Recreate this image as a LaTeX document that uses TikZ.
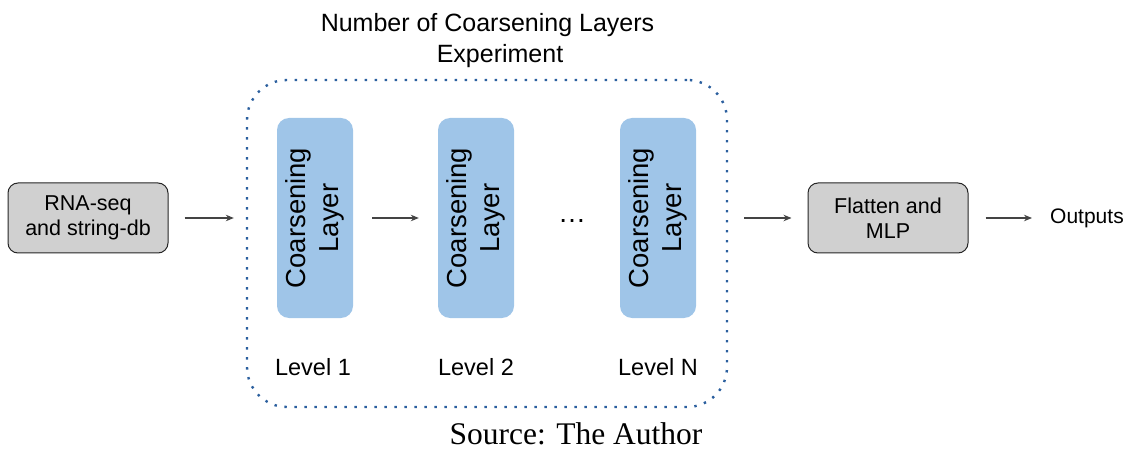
\documentclass[tikz,border=0pt]{standalone}
\usepackage{fontspec}
\setmainfont{Liberation Sans}
\newfontfamily\srcfont{Liberation Serif}
\usetikzlibrary{arrows.meta}
\definecolor{boxgrey}{HTML}{D0D0D0}
\definecolor{layerblue}{HTML}{9FC5E8}
\definecolor{dotblue}{HTML}{2B5F9E}
\definecolor{arrowgrey}{HTML}{444444}
\tikzset{
  greybox/.style={draw=black!85, line width=1pt, fill=boxgrey, rounded corners=10pt,
    minimum width=160pt, minimum height=70pt, align=center, inner sep=0pt,
    font=\fontsize{21.5}{25}\selectfont},
  layerbox/.style={fill=layerblue, rounded corners=12pt, minimum width=76pt,
    minimum height=200pt, inner sep=0pt},
  layertext/.style={rotate=90, align=center, inner sep=0pt, font=\fontsize{27.5}{33}\selectfont},
  leveltext/.style={font=\fontsize{23.5}{28}\selectfont, inner sep=0pt},
  titletext/.style={font=\fontsize{25}{31}\selectfont, inner sep=0pt, anchor=base},
  flow/.style={draw=arrowgrey, line width=1.1pt, -{Stealth[length=8pt,width=6.5pt]}},
  frame/.style={draw=dotblue, line width=2.4pt, dash pattern=on 2.4pt off 7.6pt,
    rounded corners=40pt, minimum width=480pt, minimum height=327pt, inner sep=0pt}
}
\begin{document}
\begin{tikzpicture}[x=1pt,y=-1pt]
\useasboundingbox (0,0) rectangle (1138,449);
\node[greybox] (rna) at (88,218) {RNA-seq\\and string-db};
\node[frame] (fr) at (487,243.5) {};
\node[titletext] (title1) at (487.5,31.5) {Number of Coarsening Layers};
\node[titletext] (title2) at (500,62.5) {Experiment};
\node[layerbox] (c1) at (315,218) {};
\node[layerbox] (c2) at (476,218) {};
\node[layerbox] (c3) at (658,218) {};
\node[layertext] (t1) at (c1) {Coarsening\\Layer};
\node[layertext] (t2) at (c2) {Coarsening\\Layer};
\node[layertext] (t3) at (c3) {Coarsening\\Layer};
\node[font=\fontsize{28}{30}\selectfont, inner sep=0pt] (dots) at (572,221) {…};
\node[leveltext] (l1) at (313,367) {Level 1};
\node[leveltext] (l2) at (476,367) {Level 2};
\node[leveltext] (l3) at (658,367) {Level N};
\node[greybox] (mlp) at (888,218) {Flatten and\\MLP};
\node[anchor=west, inner sep=0pt, font=\fontsize{21}{25}\selectfont] (out) at (1050,218) {Outputs};
\node[font=\srcfont\fontsize{31.5}{34}\selectfont, inner sep=0pt, anchor=base] (src) at (576,444) {Source: The Author};
\draw[flow, shorten <=16pt, shorten >=12pt] (rna.east) -- (fr.west |- rna.east);
\draw[flow, shorten <=19pt, shorten >=19pt] (c1.east) -- (c2.west);
\draw[flow, shorten <=16pt, shorten >=16pt] (fr.east |- mlp.west) -- (mlp.west);
\draw[flow, shorten <=17pt, shorten >=18pt] (mlp.east) -- (out.west);
\end{tikzpicture}
\end{document}
